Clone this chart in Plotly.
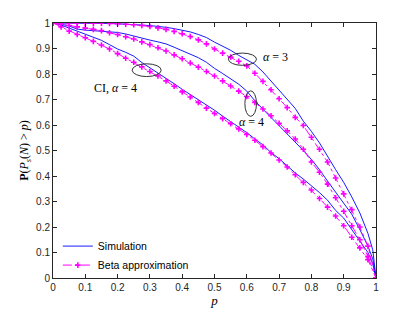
import plotly.graph_objects as go

# p grid for beta approximation (marker positions)
p_beta = [0.0, 0.025, 0.05, 0.075, 0.1, 0.125, 0.15, 0.175, 0.2, 0.225, 0.25, 0.275,
          0.3, 0.325, 0.35, 0.375, 0.4, 0.425, 0.45, 0.475, 0.5, 0.525, 0.55, 0.575,
          0.6, 0.625, 0.65, 0.675, 0.7, 0.725, 0.75, 0.775, 0.8, 0.825, 0.85, 0.875,
          0.9, 0.925, 0.95, 0.975, 1.0]
# p grid for simulation
p_sim = [0.0, 0.025, 0.05, 0.075, 0.1, 0.125, 0.15, 0.175, 0.2, 0.225, 0.25, 0.275,
         0.3, 0.325, 0.35, 0.375, 0.4, 0.425, 0.45, 0.475, 0.5, 0.525, 0.55, 0.575,
         0.6, 0.625, 0.65, 0.675, 0.7, 0.725, 0.75, 0.775, 0.8, 0.825, 0.85, 0.875,
         0.9, 0.925, 0.95, 0.975, 0.99, 1.0]

sim_a3 = [1.000, 1.000, 1.000, 1.000, 0.999, 0.999, 0.998, 0.998, 0.997, 0.996, 0.994, 0.992,
          0.990, 0.987, 0.983, 0.978, 0.973, 0.965, 0.955, 0.943, 0.925, 0.910, 0.893, 0.873,
          0.857, 0.838, 0.808, 0.772, 0.738, 0.700, 0.665, 0.615, 0.575, 0.530, 0.475, 0.425,
          0.375, 0.318, 0.255, 0.175, 0.110, 0.0]
beta_a3 = [1.000, 1.000, 1.000, 1.000, 1.000, 0.999, 0.999, 0.998, 0.997, 0.995, 0.993, 0.990,
           0.986, 0.981, 0.975, 0.967, 0.958, 0.947, 0.934, 0.918, 0.898, 0.882, 0.866, 0.850,
           0.832, 0.803, 0.771, 0.738, 0.703, 0.668, 0.630, 0.598, 0.552, 0.505, 0.455, 0.392,
           0.330, 0.268, 0.200, 0.125, 0.0]

sim_a4 = [1.000, 0.996, 0.988, 0.976, 0.972, 0.970, 0.968, 0.966, 0.963, 0.957, 0.950, 0.942,
          0.933, 0.926, 0.918, 0.905, 0.892, 0.878, 0.864, 0.846, 0.822, 0.802, 0.782, 0.760,
          0.733, 0.695, 0.662, 0.630, 0.598, 0.566, 0.535, 0.500, 0.465, 0.425, 0.380, 0.336,
          0.295, 0.250, 0.190, 0.125, 0.075, 0.0]
beta_a4 = [1.000, 0.996, 0.990, 0.985, 0.980, 0.975, 0.970, 0.962, 0.955, 0.946, 0.937, 0.926,
           0.915, 0.903, 0.890, 0.875, 0.860, 0.843, 0.827, 0.810, 0.792, 0.773, 0.753, 0.733,
           0.712, 0.688, 0.663, 0.636, 0.607, 0.577, 0.545, 0.505, 0.455, 0.415, 0.368, 0.315,
           0.262, 0.205, 0.150, 0.085, 0.0]

sim_ci4 = [1.000, 0.992, 0.980, 0.968, 0.956, 0.944, 0.932, 0.915, 0.898, 0.885, 0.870, 0.845,
           0.825, 0.802, 0.785, 0.762, 0.740, 0.720, 0.698, 0.677, 0.658, 0.635, 0.614, 0.592,
           0.570, 0.545, 0.522, 0.492, 0.468, 0.440, 0.412, 0.388, 0.362, 0.335, 0.305, 0.265,
           0.235, 0.190, 0.150, 0.100, 0.055, 0.0]
beta_ci4 = [1.000, 0.985, 0.968, 0.955, 0.942, 0.928, 0.914, 0.898, 0.880, 0.862, 0.846, 0.828,
            0.810, 0.792, 0.773, 0.752, 0.730, 0.710, 0.688, 0.666, 0.645, 0.625, 0.605, 0.585,
            0.563, 0.540, 0.515, 0.490, 0.463, 0.435, 0.405, 0.375, 0.345, 0.312, 0.278, 0.243,
            0.205, 0.160, 0.118, 0.072, 0.0]

ticks = [0, 0.1, 0.2, 0.3, 0.4, 0.5, 0.6, 0.7, 0.8, 0.9, 1]
tick_text = ["0", "0.1", "0.2", "0.3", "0.4", "0.5", "0.6", "0.7", "0.8", "0.9", "1"]

BLUE = "#0000ff"
MAG = "#ff00ff"
SERIF = "Liberation Serif, Times New Roman, serif"
SANS = "Liberation Sans, Arial, sans-serif"

fig = go.Figure()

sims = [sim_a3, sim_a4, sim_ci4]
betas = [beta_a3, beta_a4, beta_ci4]
for i, s in enumerate(sims):
    fig.add_trace(go.Scatter(x=p_sim, y=s, mode="lines", name="Simulation",
                             line=dict(color=BLUE, width=0.9),
                             showlegend=(i == 0), legendrank=1))
for i, b in enumerate(betas):
    fig.add_trace(go.Scatter(x=p_beta, y=b, mode="lines+markers", name="Beta approximation",
                             line=dict(color=MAG, width=1, dash="dashdot"),
                             marker=dict(symbol="cross-thin", size=4,
                                         line=dict(color=MAG, width=1.6)),
                             showlegend=(i == 0), legendrank=2))

ell_color = "#333333"
shapes = [
    dict(type="circle", xref="x", yref="y", x0=0.245, x1=0.335, y0=0.79, y1=0.84,
         line=dict(color=ell_color, width=1)),
    dict(type="circle", xref="x", yref="y", x0=0.543, x1=0.630, y0=0.834, y1=0.882,
         line=dict(color=ell_color, width=1)),
    dict(type="circle", xref="x", yref="y", x0=0.594, x1=0.630, y0=0.634, y1=0.734,
         line=dict(color=ell_color, width=1)),
]

annotations = [
    dict(x=0.194, y=0.745, xref="x", yref="y", text="CI, <i>α</i> = 4", showarrow=False,
         font=dict(family=SERIF, size=12, color="#000000")),
    dict(x=0.69, y=0.866, xref="x", yref="y", text="<i>α</i> = 3", showarrow=False,
         font=dict(family=SERIF, size=12, color="#000000")),
    dict(x=0.615, y=0.61, xref="x", yref="y", text="<i>α</i> = 4", showarrow=False,
         font=dict(family=SERIF, size=12, color="#000000")),
]

axis_common = dict(
    range=[0, 1], tickvals=ticks, ticktext=tick_text, ticks="inside", ticklen=4,
    tickcolor="#262626", showline=True, linecolor="#262626", linewidth=1, mirror="ticks",
    showgrid=False, zeroline=False, automargin=False,
    tickfont=dict(family=SANS, size=10, color="#262626"),
)

# the page body adds an 8px offset, margins compensate for it
fig.update_layout(
    width=415, height=312,
    margin=dict(l=45, r=47, t=15, b=42),
    paper_bgcolor="white", plot_bgcolor="white",
    xaxis=dict(**axis_common,
               title=dict(text="<i>p</i>", standoff=2,
                          font=dict(family=SERIF, size=13, color="#000000"))),
    yaxis=dict(**axis_common,
               title=dict(text="<b>P</b>(<i>P<sub>s</sub></i>(<i>N</i>) > <i>p</i>)", standoff=4,
                          font=dict(family=SERIF, size=12, color="#000000"))),
    legend=dict(x=0.015, y=0.182, xanchor="left", yanchor="top", bgcolor="rgba(0,0,0,0)",
                font=dict(family=SANS, size=10.5, color="#000000"), itemwidth=30,
                tracegroupgap=0),
    shapes=shapes, annotations=annotations, showlegend=True,
)

fig.write_html("out.html")
